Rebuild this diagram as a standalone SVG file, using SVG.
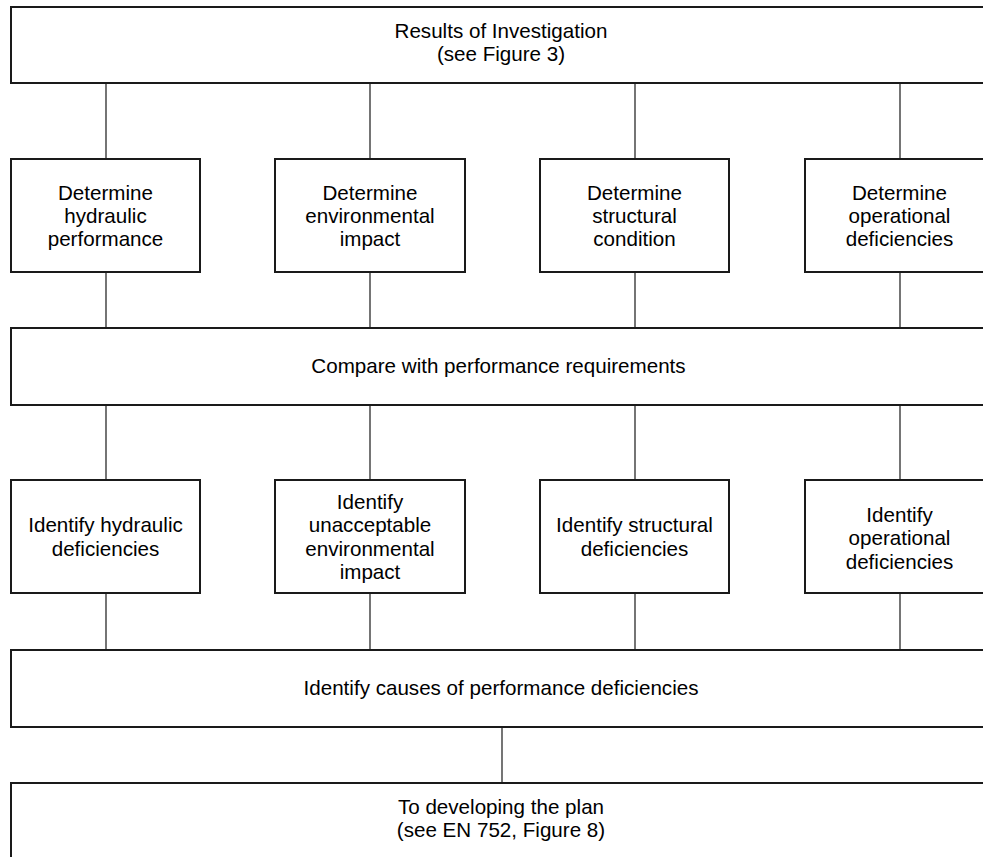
<svg xmlns="http://www.w3.org/2000/svg" width="983" height="857" viewBox="0 0 983 857">
<style>
.box{fill:#fff;stroke:#1a1a1a;stroke-width:2}
.conn{stroke:#1a1a1a;stroke-width:1.2;fill:none}
text{font-family:"Liberation Sans",Arial,sans-serif;font-size:20.6px;fill:#000;text-anchor:middle}
</style>
<rect width="983" height="857" fill="#fff"/>
<g id="connectors">
<path class="conn" d="M106,83V159M370,83V159M635,83V159M900,83V159"/>
<path class="conn" d="M106,272V328M370,272V328M635,272V328M900,272V328"/>
<path class="conn" d="M106,405V480M370,405V480M635,405V480M900,405V480"/>
<path class="conn" d="M106,593V650M370,593V650M635,593V650M900,593V650"/>
<path class="conn" d="M502,727V783"/>
</g>
<g id="results">
<rect class="box" x="11" y="7" width="984" height="76"/>
<text x="501" y="37.5">Results of Investigation</text>
<text x="501" y="60.5">(see Figure 3)</text>
</g>
<g id="det-hydraulic">
<rect class="box" x="11" y="159" width="189" height="113"/>
<text x="105.5" y="200">Determine</text>
<text x="105.5" y="222.5">hydraulic</text>
<text x="105.5" y="245.5">performance</text>
</g>
<g id="det-environmental">
<rect class="box" x="275" y="159" width="190" height="113"/>
<text x="370" y="200">Determine</text>
<text x="370" y="222.5">environmental</text>
<text x="370" y="245.5">impact</text>
</g>
<g id="det-structural">
<rect class="box" x="540" y="159" width="189" height="113"/>
<text x="634.5" y="200">Determine</text>
<text x="634.5" y="222.5">structural</text>
<text x="634.5" y="245.5">condition</text>
</g>
<g id="det-operational">
<rect class="box" x="805" y="159" width="189" height="113"/>
<text x="899.5" y="200">Determine</text>
<text x="899.5" y="222.5">operational</text>
<text x="899.5" y="245.5">deficiencies</text>
</g>
<g id="compare">
<rect class="box" x="11" y="328" width="984" height="77"/>
<text x="498.5" y="372.5">Compare with performance requirements</text>
</g>
<g id="id-hydraulic">
<rect class="box" x="11" y="480" width="189" height="113"/>
<text x="105.5" y="532">Identify hydraulic</text>
<text x="105.5" y="555.5">deficiencies</text>
</g>
<g id="id-environmental">
<rect class="box" x="275" y="480" width="190" height="113"/>
<text x="370" y="508.5">Identify</text>
<text x="370" y="532">unacceptable</text>
<text x="370" y="555.5">environmental</text>
<text x="370" y="579">impact</text>
</g>
<g id="id-structural">
<rect class="box" x="540" y="480" width="189" height="113"/>
<text x="634.5" y="532">Identify structural</text>
<text x="634.5" y="555.5">deficiencies</text>
</g>
<g id="id-operational">
<rect class="box" x="805" y="480" width="189" height="113"/>
<text x="899.5" y="521.5">Identify</text>
<text x="899.5" y="545">operational</text>
<text x="899.5" y="568.5">deficiencies</text>
</g>
<g id="causes">
<rect class="box" x="11" y="650" width="984" height="77"/>
<text x="501" y="694.5">Identify causes of performance deficiencies</text>
</g>
<g id="plan">
<rect class="box" x="11" y="783" width="984" height="90"/>
<text x="501" y="814">To developing the plan</text>
<text x="501" y="837">(see EN 752, Figure 8)</text>
</g>
</svg>
